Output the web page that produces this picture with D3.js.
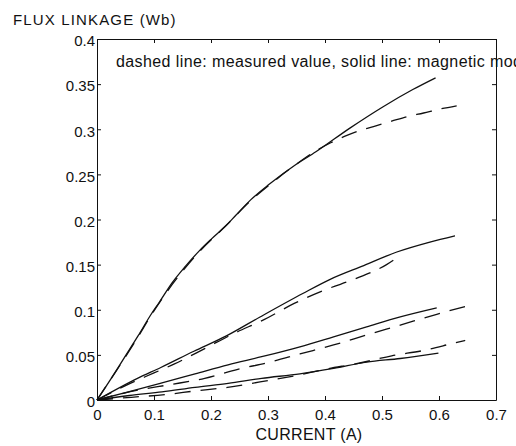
<!DOCTYPE html>
<html>
<head>
    <meta charset="UTF-8">
    <style>
        *{
            margin: 0;
            padding: 0;
        }
        body{
            background-color: #fff;
        }
        svg text{
            font-family: "Liberation Sans", Arial, sans-serif;
            fill: #111;
        }
        .tick line, .domain{
            stroke: #111;
        }
        .model{
            fill: none;
            stroke: #111;
            stroke-width: 1.3;
        }
        .measured{
            fill: none;
            stroke: #111;
            stroke-width: 1.3;
            stroke-dasharray: 16,10;
        }
    </style>
    <script src="https://d3js.org/d3.v7.min.js"></script>
    <title>Flux linkage vs current</title>
</head>

<body>
<svg id="chart" width="516" height="446"></svg>
<script>
    // tick labels
    var xTicks = [0, 0.1, 0.2, 0.3, 0.4, 0.5, 0.6, 0.7];
    var yTicks = [0, 0.05, 0.1, 0.15, 0.2, 0.25, 0.3, 0.35, 0.4];

    // solid lines: magnetic model (current A, flux Wb)
    var modelA_i = [0, 0.025, 0.048, 0.072, 0.095, 0.109, 0.132, 0.155, 0.179, 0.2, 0.226, 0.244, 0.27, 0.302, 0.349, 0.384, 0.443, 0.502, 0.554, 0.594];
    var modelA_f = [0, 0.024, 0.047, 0.071, 0.095, 0.108, 0.130, 0.148, 0.165, 0.178, 0.193, 0.205, 0.222, 0.239, 0.261, 0.275, 0.301, 0.325, 0.344, 0.357];
    var modelB_i = [0, 0.071, 0.112, 0.170, 0.227, 0.286, 0.361, 0.41, 0.468, 0.526, 0.584, 0.628];
    var modelB_f = [0, 0.024, 0.036, 0.054, 0.071, 0.092, 0.118, 0.134, 0.149, 0.164, 0.175, 0.182];
    var modelC_i = [0, 0.055, 0.114, 0.172, 0.230, 0.289, 0.356, 0.415, 0.473, 0.532, 0.596];
    var modelC_f = [0, 0.009, 0.019, 0.029, 0.039, 0.048, 0.059, 0.070, 0.081, 0.092, 0.102];
    var modelD_i = [0, 0.057, 0.114, 0.172, 0.230, 0.289, 0.356, 0.415, 0.473, 0.532, 0.599];
    var modelD_f = [0, 0.005, 0.009, 0.014, 0.0185, 0.024, 0.029, 0.035, 0.042, 0.046, 0.052];

    // dashed lines: measured value
    var measA_i = [0, 0.025, 0.048, 0.072, 0.095, 0.132, 0.179, 0.226, 0.27, 0.302, 0.349, 0.384, 0.41, 0.434, 0.463, 0.485, 0.517, 0.544, 0.573, 0.599, 0.631];
    var measA_f = [0, 0.024, 0.046, 0.070, 0.094, 0.128, 0.164, 0.193, 0.221, 0.238, 0.261, 0.276, 0.285, 0.292, 0.299, 0.303, 0.309, 0.314, 0.318, 0.322, 0.326];
    var measB_i = [0, 0.05, 0.1, 0.136, 0.189, 0.241, 0.293, 0.346, 0.40, 0.456, 0.508, 0.525];
    var measB_f = [0, 0.016, 0.030, 0.040, 0.057, 0.074, 0.089, 0.107, 0.122, 0.135, 0.150, 0.157];
    var measC_i = [0, 0.072, 0.128, 0.189, 0.247, 0.304, 0.356, 0.415, 0.473, 0.532, 0.596, 0.654];
    var measC_f = [0, 0.011, 0.017, 0.024, 0.034, 0.042, 0.051, 0.061, 0.072, 0.083, 0.095, 0.105];
    var measD_i = [0, 0.06, 0.12, 0.172, 0.229, 0.286, 0.349, 0.40, 0.461, 0.517, 0.574, 0.629, 0.646];
    var measD_f = [0, 0.003, 0.006, 0.010, 0.014, 0.020, 0.027, 0.034, 0.041, 0.049, 0.055, 0.0635, 0.066];

    var svg = d3.select("#chart");
    var plotLeft = 97, plotRight = 496, plotTop = 39, plotBottom = 400;

    var x = d3.scaleLinear().domain([0, 0.7]).range([plotLeft, plotRight]),
        y = d3.scaleLinear().domain([0, 0.4]).range([plotBottom, plotTop]);

    function pairs(a, b) {
        return a.map(function (v, i) { return [v, b[i]]; });
    }

    var line = d3.line()
        .curve(d3.curveMonotoneX)
        .x(function (d) { return x(d[0]); })
        .y(function (d) { return y(d[1]); });

    // axes, ticks pointing inward
    var gx = svg.append("g")
        .attr("transform", "translate(0," + plotBottom + ")")
        .call(d3.axisBottom(x).tickValues(xTicks).tickSize(-4).tickSizeOuter(0).tickPadding(9)
            .tickFormat(function (d) { return String(d); }));
    gx.selectAll("text").attr("font-size", "15px");

    svg.append("g")
        .attr("transform", "translate(0," + plotTop + ")")
        .call(d3.axisTop(x).tickValues(xTicks).tickSize(-4).tickSizeOuter(0).tickFormat(""));

    var gy = svg.append("g")
        .attr("transform", "translate(" + plotLeft + ",0)")
        .call(d3.axisLeft(y).tickValues(yTicks).tickSize(-4).tickSizeOuter(0).tickPadding(2)
            .tickFormat(function (d) { return String(d); }));
    gy.selectAll("text").attr("font-size", "15px").attr("dy", "0.45em");

    svg.append("g")
        .attr("transform", "translate(" + plotRight + ",0)")
        .call(d3.axisRight(y).tickValues(yTicks).tickSize(-4).tickSizeOuter(0).tickFormat(""));

    svg.selectAll(".tick text").attr("font-family", "Liberation Sans, Arial, sans-serif").style("fill", "#111");

    // curves
    var models = [pairs(modelA_i, modelA_f), pairs(modelB_i, modelB_f), pairs(modelC_i, modelC_f), pairs(modelD_i, modelD_f)];
    var measured = [pairs(measA_i, measA_f), pairs(measB_i, measB_f), pairs(measC_i, measC_f), pairs(measD_i, measD_f)];

    svg.selectAll(".measured")
        .data(measured)
        .enter()
        .append("path")
        .attr("class", "measured")
        .attr("d", line);

    svg.selectAll(".model")
        .data(models)
        .enter()
        .append("path")
        .attr("class", "model")
        .attr("d", line);

    // texts
    svg.append("text")
        .attr("x", 13).attr("y", 25)
        .attr("font-size", "15px")
        .attr("letter-spacing", "1.15px")
        .text("FLUX LINKAGE (Wb)");

    svg.append("text")
        .attr("x", 309).attr("y", 440)
        .attr("text-anchor", "middle")
        .attr("font-size", "16px")
        .attr("letter-spacing", "0.3px")
        .text("CURRENT (A)");

    svg.append("text")
        .attr("x", 116).attr("y", 67)
        .attr("font-size", "16px")
        .attr("letter-spacing", "0.4px")
        .text("dashed line: measured value, solid line: magnetic model");
</script>
</body>
</html>
